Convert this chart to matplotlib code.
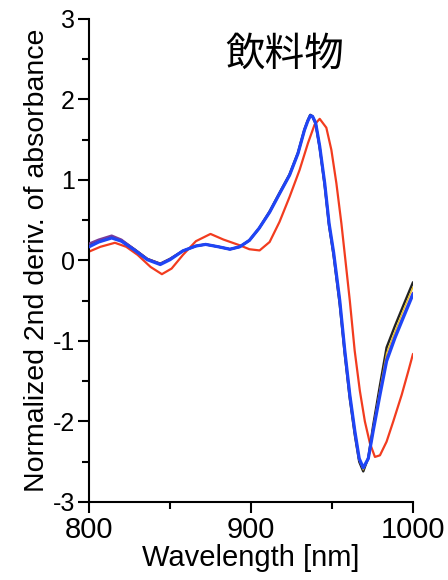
import numpy as np
import matplotlib
matplotlib.use('Agg')
from matplotlib import pyplot as plt
from matplotlib.ticker import MultipleLocator

plt.rcParams['font.family'] = ['Liberation Sans', 'DejaVu Sans']
plt.rcParams['axes.unicode_minus'] = False

TITLE = '飲料物'
XLABEL = 'Wavelength [nm]'
YLABEL = 'Normalized 2nd deriv. of absorbance'

# wavelengths (nm) shared by the blue-like group of curves
wl_group = [800, 806, 814, 820, 828, 836, 844, 850, 858, 866, 872, 880, 887, 893,
            899, 905, 911.5, 917.6, 923.8, 929, 933, 935, 936.6, 938, 939.9, 942.4,
            945.5, 948.2, 951, 954.8, 957.9, 961, 964.1, 966.8, 969.3, 972.4, 975.4,
            979.6, 983.7, 988.9, 994, 1000]
blue = [0.17, 0.23, 0.28, 0.24, 0.13, 0.01, -0.05, 0.01, 0.12, 0.18, 0.2, 0.17, 0.14, 0.17,
        0.25, 0.40, 0.60, 0.83, 1.06, 1.33, 1.62, 1.73, 1.80, 1.79, 1.71, 1.42,
        0.96, 0.46, 0.1, -0.5, -1.12, -1.67, -2.12, -2.46, -2.575, -2.46, -2.12,
        -1.67, -1.25, -0.96, -0.71, -0.42]
black = [0.19, 0.24, 0.29, 0.25, 0.14, 0.02, -0.04, 0.02, 0.12, 0.18, 0.2, 0.17, 0.14, 0.17,
         0.25, 0.40, 0.61, 0.84, 1.07, 1.34, 1.63, 1.74, 1.81, 1.79, 1.7, 1.4,
         0.93, 0.43, 0.06, -0.55, -1.17, -1.72, -2.17, -2.5, -2.62, -2.45, -2.05,
         -1.55, -1.08, -0.81, -0.56, -0.27]
yellow = [0.18, 0.23, 0.28, 0.24, 0.13, 0.01, -0.05, 0.01, 0.12, 0.18, 0.2, 0.17, 0.14, 0.17,
          0.25, 0.40, 0.60, 0.83, 1.06, 1.33, 1.62, 1.73, 1.79, 1.78, 1.7, 1.41,
          0.95, 0.45, 0.08, -0.52, -1.14, -1.69, -2.14, -2.48, -2.6, -2.46, -2.08,
          -1.6, -1.15, -0.88, -0.62, -0.33]
purple = [0.21, 0.26, 0.31, 0.26, 0.14, 0.02, -0.04, 0.02, 0.12, 0.18, 0.2, 0.17, 0.14, 0.17,
          0.25, 0.40, 0.60, 0.83, 1.06, 1.33, 1.62, 1.73, 1.79, 1.78, 1.7, 1.41,
          0.95, 0.45, 0.09, -0.51, -1.13, -1.68, -2.13, -2.47, -2.58, -2.46, -2.1,
          -1.64, -1.22, -0.94, -0.69, -0.4]

wl_red = [800, 807, 816, 823, 830, 838, 845, 851, 858, 866, 875, 883, 892.9, 899, 905.3,
          911.5, 917.6, 923.8, 930, 935.2, 939.3, 942.4, 946.5, 949.6, 952.7, 955.8, 958.3,
          961, 964, 967.2, 970.3, 973.4, 976.5, 979.6, 983.7, 987.8, 993, 997.1, 1000]
red = [0.11, 0.17, 0.22, 0.17, 0.07, -0.08, -0.17, -0.1, 0.07, 0.24, 0.33, 0.26, 0.19, 0.14,
       0.125, 0.23, 0.48, 0.79, 1.125, 1.46, 1.69, 1.76, 1.65, 1.375, 0.96, 0.46, 0.0,
       -0.5, -1.12, -1.62, -2.0, -2.27, -2.44, -2.42, -2.25, -2.0, -1.67, -1.375, -1.16]


fig = plt.figure(figsize=(4.48, 5.8), dpi=100)
ax = fig.add_axes([89 / 448, 1 - 502 / 580, (413 - 89) / 448, (502 - 19) / 580])

style = dict(solid_joinstyle='round', solid_capstyle='round')
ax.plot(wl_red, red, color='#f23c1f', lw=1.6, zorder=2, **style)
ax.plot(wl_group, black, color='#222222', lw=1.7, zorder=3, **style)
ax.plot(wl_group, yellow, color='#e8c020', lw=1.0, zorder=3, **style)
ax.plot(wl_group, purple, color='#7a3c9a', lw=1.6, zorder=3, **style)
ax.plot(wl_group, blue, color='#1f45f5', lw=2.3, zorder=4, **style)

ax.set_xlim(800, 1000)
ax.set_ylim(-3, 3)
ax.xaxis.set_major_locator(MultipleLocator(100))
ax.xaxis.set_minor_locator(MultipleLocator(50))
ax.yaxis.set_major_locator(MultipleLocator(1))
ax.yaxis.set_minor_locator(MultipleLocator(0.5))

for side in ('top', 'right'):
    ax.spines[side].set_visible(False)
for side in ('left', 'bottom'):
    ax.spines[side].set_linewidth(1.5)

ax.tick_params(axis='both', which='major', direction='out', length=8, width=1.5)
ax.tick_params(axis='both', which='minor', direction='out', length=5, width=1.5)
ax.tick_params(axis='y', which='major', labelsize=18, pad=2)
ax.tick_params(axis='x', which='major', labelsize=21, pad=2)

ax.set_xlabel(XLABEL, fontsize=21, labelpad=0)
ax.set_ylabel(YLABEL, fontsize=20.5, labelpad=2)

ax.text(921, 2.56, TITLE, ha='center', va='center', fontsize=28.5, fontweight='normal',
        family=['Noto Sans CJK JP', 'DejaVu Sans'])

fig.savefig('out.png', dpi=100)
